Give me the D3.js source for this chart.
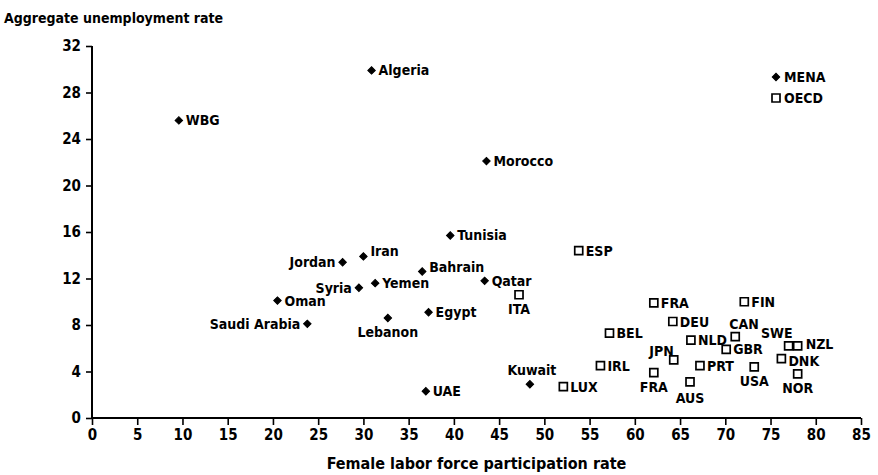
<!DOCTYPE html>
<html>
<head>
<meta charset="utf-8">
<script src="https://cdn.jsdelivr.net/npm/d3@7"></script>
<style>
body { margin: 0; background: #fff; }
text { font-family: "DejaVu Sans Condensed", "Liberation Sans Narrow", sans-serif; font-weight: bold; fill: #000; }
</style>
</head>
<body>
<svg></svg>
<script>
// MENA countries: female labor force participation (x), unemployment (y)
var menaNames = ["WBG", "Algeria", "Morocco", "Tunisia", "Iran", "Jordan", "Bahrain", "Syria", "Yemen",
	"Qatar", "Oman", "Saudi Arabia", "Lebanon", "Egypt", "UAE", "Kuwait"];
var menaX = [9.6, 30.9, 43.6, 39.6, 30.0, 27.7, 36.5, 29.5, 31.3, 43.4, 20.5, 23.8, 32.7, 37.2, 36.9, 48.4];
var menaY = [25.6, 29.9, 22.1, 15.7, 13.9, 13.4, 12.6, 11.2, 11.6, 11.8, 10.1, 8.1, 8.6, 9.1, 2.3, 2.9];

// OECD countries
var oecdNames = ["ITA", "ESP", "FRA", "FIN", "DEU", "CAN", "BEL", "NLD", "SWE", "NZL", "GBR", "JPN",
	"DNK", "IRL", "PRT", "USA", "FRA", "NOR", "AUS", "LUX"];
var oecdX = [47.2, 53.8, 62.1, 72.1, 64.2, 71.1, 57.2, 66.2, 77.0, 78.0, 70.1, 64.3, 76.2, 56.2, 67.2, 73.2, 62.1, 78.0, 66.1, 52.1];
var oecdY = [10.6, 14.4, 9.9, 10.0, 8.3, 7.0, 7.3, 6.7, 6.2, 6.2, 5.9, 5.0, 5.1, 4.5, 4.5, 4.4, 3.9, 3.8, 3.1, 2.7];

var xTicks = d3.range(0, 86, 5);
var yTicks = [0, 4, 8, 12, 16, 20, 24, 28, 32];

// where each label sits relative to its marker
var menaPlace = ["r", "r", "r", "r", "ru", "l", "ru", "l", "r", "r", "r", "l", "b", "r", "r", "k"];
var oecdPlace = ["b", "r", "r", "r", "r", "can", "r", "r", "swe", "nzl", "r", "jpn", "dnk", "r", "r", "b", "b", "b", "b2", "r"];
var places = {
	r:   {a: "start",  dx: 7,  dy: 5},
	l:   {a: "end",    dx: -7, dy: 5},
	ru:  {a: "start",  dx: 7,  dy: 0},
	b:   {a: "middle", dx: 0,  dy: 19},
	b2:  {a: "middle", dx: 0,  dy: 21},
	k:   {a: "middle", dx: 2,  dy: -9},
	can: {a: "start",  dx: -6, dy: -8},
	swe: {a: "end",    dx: 4,  dy: -8},
	jpn: {a: "end",    dx: 0,  dy: -4},
	nzl: {a: "start",  dx: 8,  dy: 3},
	dnk: {a: "start",  dx: 7,  dy: 7}
};

var W = 878, H = 475;
var margin = {left: 92, right: 17, top: 46, bottom: 57};
var svg = d3.select("svg").attr("width", W).attr("height", H);

var x = d3.scaleLinear().domain([0, 85]).range([margin.left, W - margin.right]);
var y = d3.scaleLinear().domain([0, 32]).range([H - margin.bottom, margin.top]);

var xAxis = svg.append("g")
	.attr("transform", "translate(0," + (H - margin.bottom) + ")")
	.call(d3.axisBottom(x).tickValues(xTicks).tickSize(7).tickPadding(4));
var yAxis = svg.append("g")
	.attr("transform", "translate(" + margin.left + ",0)")
	.call(d3.axisLeft(y).tickValues(yTicks).tickSize(6).tickPadding(5));

[xAxis, yAxis].forEach(function(g){
	g.select(".domain").attr("stroke", "#000").attr("stroke-width", 2);
	g.selectAll(".tick line").attr("stroke", "#000").attr("stroke-width", 1.6);
	g.selectAll(".tick text").style("font-size", "15px");
	g.attr("font-family", null).attr("font-size", null);
});
xAxis.select(".domain").attr("d", "M" + x(0) + ",0H" + x(85));
yAxis.select(".domain").attr("d", "M0," + y(0) + "V" + y(32));

svg.append("text").attr("x", 4).attr("y", 23).style("font-size", "14px").text("Aggregate unemployment rate");
svg.append("text").attr("x", (x(0) + x(85)) / 2).attr("y", 469).attr("text-anchor", "middle")
	.style("font-size", "16px").text("Female labor force participation rate");

var diamond = d3.symbol().type(d3.symbolSquare).size(28);
var square = d3.symbol().type(d3.symbolSquare).size(64);

function drawGroup(names, xs, ys, place, isMena){
	var pts = names.map(function(n, i){ return {name: n, x: xs[i], y: ys[i], p: places[place[i]]}; });
	var g = svg.append("g");
	g.selectAll("path").data(pts).enter().append("path")
		.attr("d", isMena ? diamond : square)
		.attr("transform", function(d){ return "translate(" + x(d.x) + "," + y(d.y) + ")" + (isMena ? " rotate(45)" : ""); })
		.attr("fill", isMena ? "#000" : "#fff")
		.attr("stroke", "#000")
		.attr("stroke-width", isMena ? 1 : 1.7);
	g.selectAll("text").data(pts).enter().append("text")
		.attr("x", function(d){ return x(d.x) + d.p.dx; })
		.attr("y", function(d){ return y(d.y) + d.p.dy; })
		.attr("text-anchor", function(d){ return d.p.a; })
		.style("font-size", "14px")
		.text(function(d){ return d.name; });
}
drawGroup(menaNames, menaX, menaY, menaPlace, true);
drawGroup(oecdNames, oecdX, oecdY, oecdPlace, false);

// legend
var lg = svg.append("g").attr("transform", "translate(" + (W - margin.right - 85) + ",77)");
lg.append("path").attr("d", diamond).attr("transform", "rotate(45)").attr("fill", "#000").attr("stroke", "#000");
lg.append("text").attr("x", 8).attr("y", 5).style("font-size", "14px").text("MENA");
lg.append("path").attr("d", square).attr("transform", "translate(0,21)").attr("fill", "#fff").attr("stroke", "#000").attr("stroke-width", 1.7);
lg.append("text").attr("x", 8).attr("y", 26).style("font-size", "14px").text("OECD");
</script>
</body>
</html>
